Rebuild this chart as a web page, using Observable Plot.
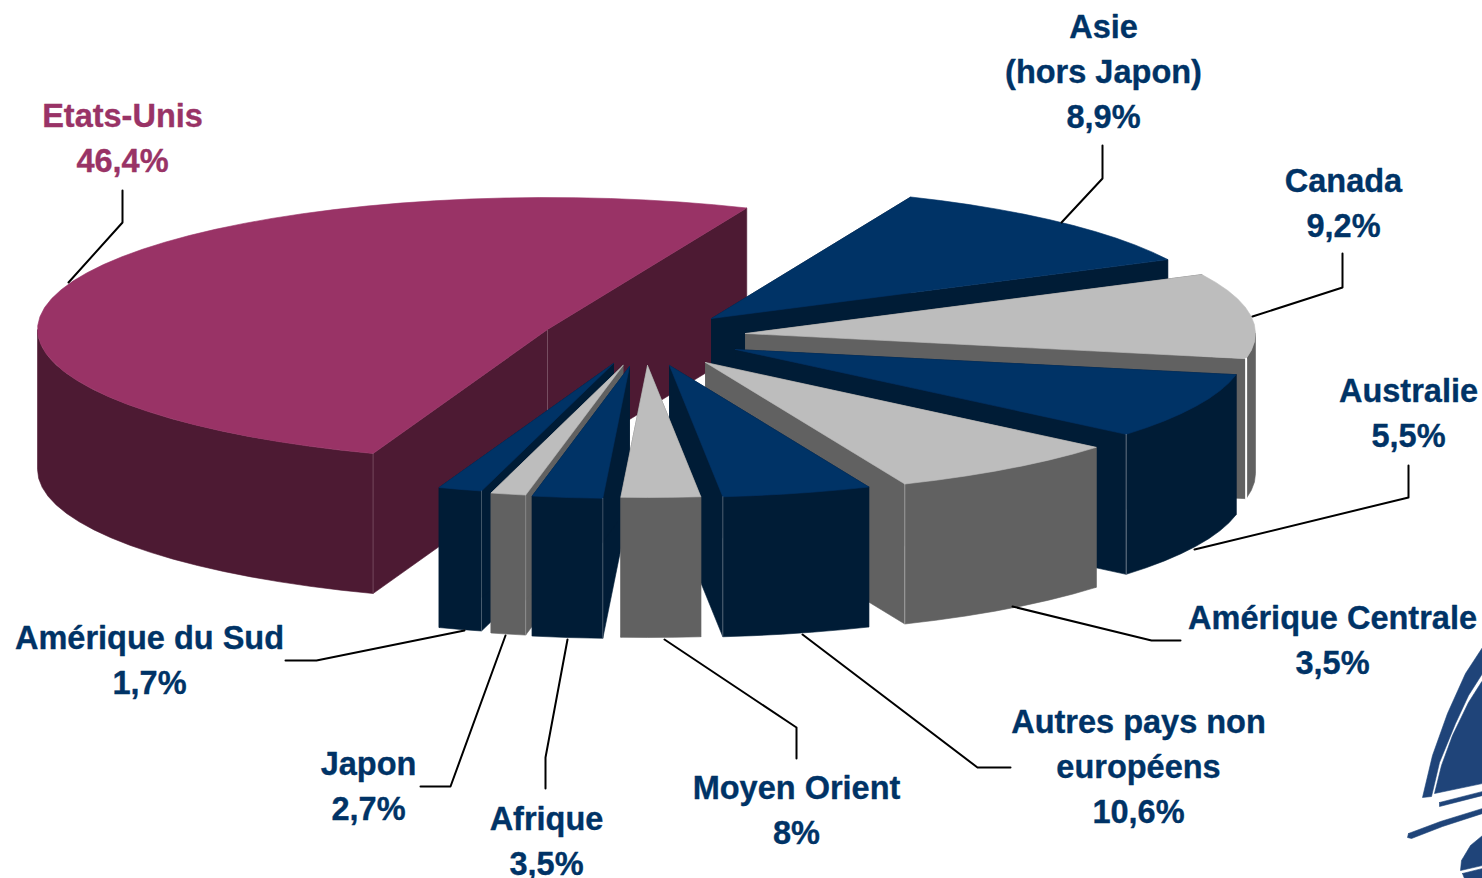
<!DOCTYPE html>
<html lang="fr">
<head>
<meta charset="utf-8">
<style>
html,body{margin:0;padding:0;background:#fff;overflow:hidden}
svg{display:block}
</style>
<script src="https://cdn.jsdelivr.net/npm/d3@7"></script>
<script src="https://cdn.jsdelivr.net/npm/@observablehq/plot@0.6"></script>
</head>
<body>
<script>
// Values printed on the chart
const sliceNames = ["Etats-Unis","Asie\n(hors Japon)","Canada","Australie","Amérique Centrale","Autres pays non\neuropéens","Moyen Orient","Afrique","Japon","Amérique du Sud"];
const sliceShares = ["46,4%","8,9%","9,2%","5,5%","3,5%","10,6%","8%","3,5%","2,7%","1,7%"];
// Slice extents (degrees around the tilted disc)
const sliceFrom = [110,-67,-26.5,11,40,67,84,93,101,105];
const sliceTo   = [293,-26.5,11,40,67,84,93,101,105,110];
// Exploded position of each slice's tip
const sliceTipX = [547,711,745,735,705,669,647,629,622.5,613];
const sliceTipY = [329,318,333,349,362,365,365,366,365,363];
const sliceKind = ["us","navy","grey","navy","grey","navy","grey","navy","grey","navy"];
const paintOrder = [0,1,2,3,4,5,9,8,7,6];
// Angle of the visible front corner of each slice, where a thin seam shows
const seamAngle = [110,null,11,40,67,84,null,93,101,105];
const seamOpacity = [0.2,0,1,0.4,0.4,0.3,0,0.25,0.25,0.25];
const palette = {
  us:{top:"#993366",wall:"#4d1a33"},
  navy:{top:"#003366",wall:"#001c36"},
  grey:{top:"#bdbdbd",wall:"#616161"}
};
const discRx = 510, discRy = 132, discDepth = 140;

// Label anchors (centre x, first baseline)
const labelX = [122,1103,1343,1408,1332,1138,796,546,368,149];
const labelY = [127,38,192,402,629,733,799,830,775,649];
const labelSize = 32.5, labelLine = 45;

// Leader lines
const leaderX = [[122,122,68],[1102,1102,1061],[1342,1342,1252],[1408,1408,1194],[1180,1151,1012],[1010,977,802],[796,796,664],[545,545,567],[420,450,505],[285,316,464]];
const leaderY = [[190,222,282],[145,178,222],[253,287,316],[465,497,549],[640,640,606],[767,767,634],[758,727,639],[788,757,639],[786,786,635],[660,660,630]];

// Logo fragment in the corner
const logoColor = "#1f4479";
const logoShapes = [
  [[1482,647],[1465,673],[1447,713],[1432,755],[1422,797],[1431,796],[1439,762],[1455,723],[1468,695],[1482,673]],
  [[1482,680],[1468,702],[1452,735],[1441,765],[1434,793],[1482,783]],
  [[1439,802],[1482,791],[1482,795],[1439,806]],
  [[1408,833],[1440,821],[1482,808],[1482,813],[1442,826],[1411,838],[1407,837]],
  [[1482,835],[1470,845],[1461,860],[1460,870],[1482,865]],
  [[1462,873],[1482,868],[1482,878],[1464,878]]
];

const rim = (i, a) => {
  const t = a * Math.PI / 180;
  return [sliceTipX[i] + discRx * Math.cos(t), sliceTipY[i] + discRy * Math.sin(t)];
};
const arc = (i, from, to) => {
  const n = Math.max(2, Math.ceil((to - from) / 4));
  return d3.range(n + 1).map(k => rim(i, from + (to - from) * k / n));
};
const down = ([x, y]) => [x, y + discDepth];
const poly = (pts, color) => Plot.line([...pts, pts[0]], {
  x: d => d[0], y: d => d[1], fill: color, stroke: color, strokeWidth: 0.6, curve: "linear"
});
const seam = (p, opacity, width) => Plot.line([p, down(p)], {
  x: d => d[0], y: d => d[1], stroke: "#fff", strokeOpacity: opacity, strokeWidth: width
});

const marks = [];
for (const i of paintOrder) {
  const c = palette[sliceKind[i]];
  const tip = [sliceTipX[i], sliceTipY[i]];
  const a = arc(i, sliceFrom[i], sliceTo[i]), first = a[0], last = a[a.length - 1];
  marks.push(poly([tip, first, down(first), down(tip)], c.wall));
  marks.push(poly([tip, last, down(last), down(tip)], c.wall));
  // Only the part of the rim that faces the viewer needs an outer wall
  const from = Math.max(sliceFrom[i], 0), to = Math.min(sliceTo[i], 180);
  if (to > from) {
    const front = arc(i, from, to);
    marks.push(poly([...front, ...front.map(down).reverse()], c.wall));
  }
  if (i === 0) marks.push(seam(tip, seamOpacity[0], 1));
  marks.push(poly([tip, ...a], c.top));
  if (seamAngle[i] !== null) marks.push(seam(rim(i, seamAngle[i]), seamOpacity[i], i === 2 ? 2 : 1));
}

leaderX.forEach((xs, k) => {
  marks.push(Plot.line(xs.map((x, j) => [x, leaderY[k][j]]), {x: d => d[0], y: d => d[1], stroke: "#000", strokeWidth: 2}));
});

logoShapes.forEach(s => marks.push(poly(s, logoColor)));

const labels = sliceNames.map((n, i) => ({text: n + "\n" + sliceShares[i], x: labelX[i], y: labelY[i] - 9 - 0.71 * labelSize, color: i === 0 ? "#993366" : "#003366"}));
marks.push(Plot.text(labels, {
  x: "x", y: "y", text: "text", textAnchor: "middle", lineAnchor: "top",
  lineHeight: labelLine / labelSize, fontSize: labelSize, fontWeight: "bold",
  fontFamily: "Liberation Sans, Arial, sans-serif",
  fill: d => d.color, stroke: d => d.color, strokeWidth: 0.35
}));

document.body.appendChild(Plot.plot({
  width: 1482, height: 878, margin: 0,
  x: {domain: [0, 1482], range: [0, 1482], axis: null},
  y: {domain: [0, 878], range: [0, 878], axis: null},
  color: {type: "identity"},
  marks
}));
</script>
</body>
</html>
